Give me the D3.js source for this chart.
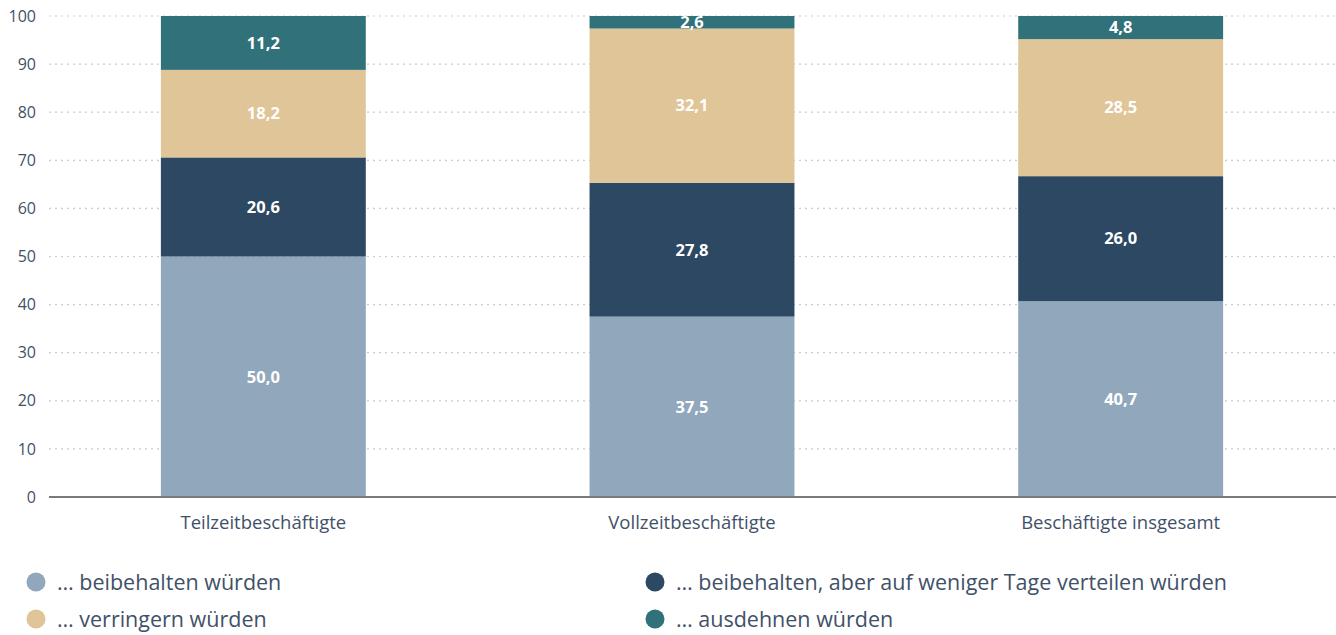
<!DOCTYPE html>
<html><head><meta charset="utf-8">
<script src="https://cdn.jsdelivr.net/npm/d3@7"></script>
<style>
html,body{margin:0;padding:0;background:#fff;}
svg{display:block;}
svg text{font-family:"Open Sans",sans-serif;}
</style></head>
<body>
<script>
const categories = ["Teilzeitbeschäftigte", "Vollzeitbeschäftigte", "Beschäftigte insgesamt"];
const seriesNames = ["… beibehalten würden", "… beibehalten, aber auf weniger Tage verteilen würden", "… verringern würden", "… ausdehnen würden"];
const beibehalten = [50.0, 37.5, 40.7];
const wenigerTage = [20.6, 27.8, 26.0];
const verringern = [18.2, 32.1, 28.5];
const ausdehnen = [11.2, 2.6, 4.8];
const yTicks = [0, 10, 20, 30, 40, 50, 60, 70, 80, 90, 100];
const colors = ["#91a7bb", "#2d4862", "#dfc597", "#317179"];

const W = 1336, H = 635;
const svg = d3.select("body").append("svg").attr("width", W).attr("height", H);

const x = d3.scaleBand().domain(categories).range([49, 1335]).padding(0);
const y = d3.scaleLinear().domain([0, 100]).range([497, 16]);
const barFrac = 0.478;

// grid
svg.append("g").selectAll("line").data(yTicks.filter(t => t > 0)).join("line")
  .attr("x1", 49).attr("x2", W).attr("y1", d => y(d)).attr("y2", d => y(d))
  .attr("stroke", "#c4ccd4").attr("stroke-width", 1.2).attr("stroke-dasharray", "2,4");

// y axis labels
const yAxis = d3.axisLeft(y).tickValues(yTicks).tickSize(0).tickPadding(0).tickFormat(d3.format("d"));
const ya = svg.append("g").attr("transform", "translate(36,0)").call(yAxis);
ya.attr("font-family", null).attr("font-size", 16);
ya.select(".domain").remove();
ya.selectAll("text").attr("fill", "#3f5169");

const rows = categories.map((c, i) => ({cat: c, v: [beibehalten[i], wenigerTage[i], verringern[i], ausdehnen[i]]}));
const stack = d3.stack().keys([0, 1, 2, 3]).value((d, k) => d.v[k]);
const layers = stack(rows);

const fmt = v => d3.format(".1f")(v).replace(".", ",");
const bw = x.bandwidth() * barFrac;

layers.forEach((layer, k) => {
  const g = svg.append("g");
  g.selectAll("rect").data(layer).join("rect")
    .attr("x", d => x(d.data.cat) + (x.bandwidth() - bw) / 2)
    .attr("width", bw)
    .attr("y", d => y(d[1]))
    .attr("height", d => y(d[0]) - y(d[1]))
    .attr("fill", colors[k]);
  g.selectAll("text").data(layer).join("text")
    .attr("x", d => x(d.data.cat) + x.bandwidth() / 2)
    .attr("y", d => (y(d[0]) + y(d[1])) / 2)
    .attr("dy", "0.35em")
    .attr("text-anchor", "middle")
    .attr("font-size", 16.5).attr("font-weight", "bold").attr("fill", "#fff")
    .text(d => fmt(d[1] - d[0]));
});

// x axis
const xAxis = d3.axisBottom(x).tickSize(0).tickPadding(19);
const xa = svg.append("g").attr("transform", "translate(0,497)").call(xAxis);
xa.attr("font-family", null).attr("font-size", 18.5);
xa.select(".domain").remove();
xa.selectAll("text").attr("fill", "#3f5169");
svg.append("line").attr("x1", 49).attr("x2", W).attr("y1", 497).attr("y2", 497)
  .attr("stroke", "#7a7a7a").attr("stroke-width", 2);

// legend
const legPos = [[36, 582], [655, 582], [36, 619], [655, 619]];
const legOrder = [0, 1, 2, 3];
const lg = svg.append("g").selectAll("g").data(legOrder).join("g")
  .attr("transform", (d, i) => `translate(${legPos[i][0]},${legPos[i][1]})`);
lg.append("circle").attr("r", 9.5).attr("fill", d => colors[d]);
lg.append("text").attr("x", 21).attr("dy", "0.35em").attr("font-size", 21.5).attr("fill", "#3f5169")
  .text(d => seriesNames[d]);
</script>
</body></html>
